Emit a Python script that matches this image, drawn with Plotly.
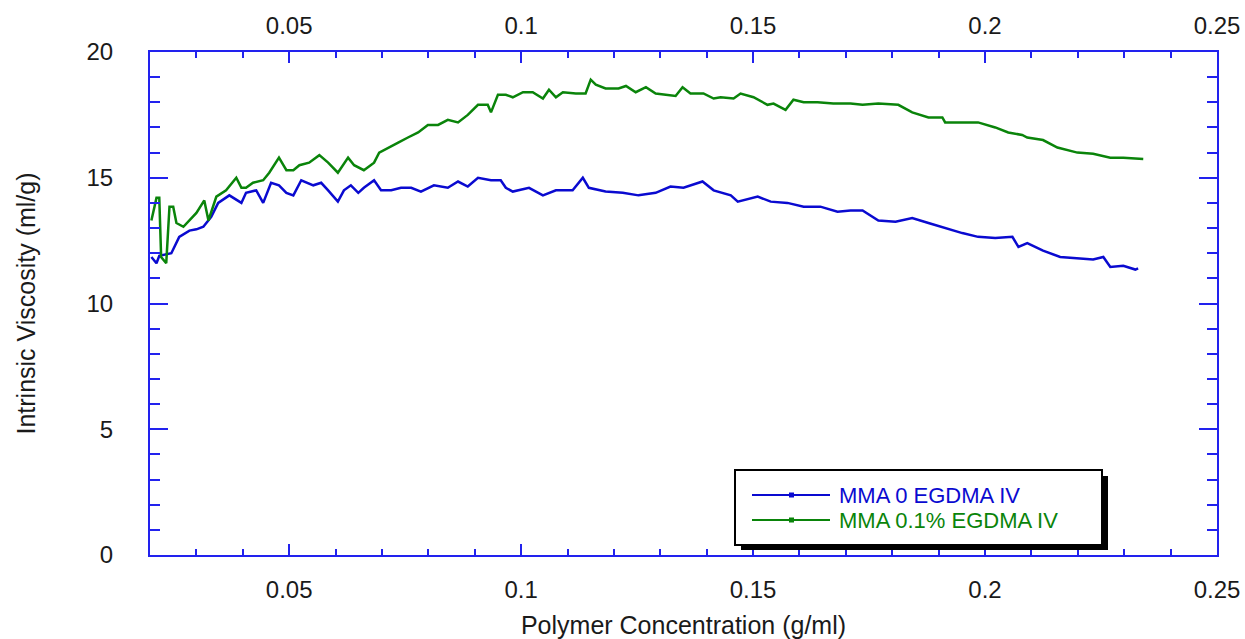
import plotly.graph_objects as go

# ---- data ----
blue_name = "MMA 0 EGDMA IV"
blue_x = [0.0203, 0.0214, 0.0220, 0.0246, 0.0263, 0.0285, 0.0300, 0.0315, 0.0332, 0.0347,
          0.0371, 0.0397, 0.0407, 0.0429, 0.0444, 0.0461, 0.0478, 0.0494, 0.0509, 0.0526,
          0.0552, 0.0569, 0.0584, 0.0605, 0.0618, 0.0633, 0.0649, 0.0661, 0.0683, 0.0698,
          0.0720, 0.0741, 0.0763, 0.0784, 0.0812, 0.0842, 0.0864, 0.0885, 0.0907, 0.0935,
          0.0956, 0.0967, 0.0982, 0.1017, 0.1047, 0.1075, 0.1111, 0.1133, 0.1146, 0.1182,
          0.1219, 0.1253, 0.1290, 0.1322, 0.1350, 0.1391, 0.1415, 0.1452, 0.1467, 0.1510,
          0.1538, 0.1574, 0.1609, 0.1645, 0.1682, 0.1710, 0.1736, 0.1770, 0.1807, 0.1843,
          0.1878, 0.1914, 0.1951, 0.1985, 0.2022, 0.2059, 0.2072, 0.2091, 0.2125, 0.2162,
          0.2199, 0.2233, 0.2255, 0.2270, 0.2298, 0.2324, 0.2330]
blue_y = [11.85, 11.6, 11.9, 12.0, 12.65, 12.9, 12.95, 13.05, 13.45, 14.0,
          14.3, 14.0, 14.4, 14.5, 14.0, 14.8, 14.7, 14.4, 14.3, 14.9,
          14.7, 14.8, 14.5, 14.05, 14.5, 14.7, 14.4, 14.6, 14.9, 14.5,
          14.5, 14.6, 14.6, 14.45, 14.7, 14.6, 14.85, 14.65, 15.0, 14.9,
          14.9, 14.6, 14.45, 14.6, 14.3, 14.5, 14.5, 15.0, 14.6, 14.45,
          14.4, 14.3, 14.4, 14.65, 14.6, 14.85, 14.5, 14.3, 14.05, 14.25,
          14.05, 14.0, 13.85, 13.85, 13.65, 13.7, 13.7, 13.3, 13.25, 13.4,
          13.2, 13.0, 12.8, 12.65, 12.6, 12.65, 12.25, 12.4, 12.1, 11.85,
          11.8, 11.75, 11.85, 11.45, 11.5, 11.35, 11.4]

green_name = "MMA 0.1% EGDMA IV"
green_x = [0.0203, 0.0214, 0.0220, 0.0224, 0.0235, 0.0242, 0.0250, 0.0257, 0.0272, 0.0285,
           0.0300, 0.0317, 0.0326, 0.0343, 0.0364, 0.0386, 0.0397, 0.0407, 0.0422, 0.0444,
           0.0457, 0.0478, 0.0494, 0.0509, 0.0522, 0.0543, 0.0565, 0.0584, 0.0605, 0.0627,
           0.0640, 0.0661, 0.0683, 0.0694, 0.0713, 0.0735, 0.0756, 0.0778, 0.0799, 0.0821,
           0.0842, 0.0864, 0.0885, 0.0907, 0.0928, 0.0935, 0.0950, 0.0967, 0.0982, 0.1004,
           0.1025, 0.1047, 0.1060, 0.1075, 0.1090, 0.1118, 0.1139, 0.1150, 0.1161, 0.1182,
           0.1210, 0.1226, 0.1247, 0.1269, 0.1290, 0.1312, 0.1333, 0.1348, 0.1365, 0.1393,
           0.1415, 0.1430, 0.1458, 0.1473, 0.1501, 0.1531, 0.1544, 0.1570, 0.1587, 0.1609,
           0.1639, 0.1673, 0.1710, 0.1736, 0.1770, 0.1813, 0.1843, 0.1878, 0.1908, 0.1914,
           0.1951, 0.1985, 0.2022, 0.2050, 0.2080, 0.2091, 0.2125, 0.2156, 0.2199, 0.2233,
           0.2270, 0.2298, 0.2341]
green_y = [13.3, 14.2, 14.2, 11.85, 11.6, 13.85, 13.85, 13.2, 13.05, 13.3,
           13.6, 14.1, 13.3, 14.25, 14.5, 15.0, 14.6, 14.6, 14.8, 14.9,
           15.2, 15.8, 15.3, 15.3, 15.5, 15.6, 15.9, 15.6, 15.2, 15.8,
           15.5, 15.3, 15.6, 16.0, 16.2, 16.4, 16.6, 16.8, 17.1, 17.1,
           17.3, 17.2, 17.5, 17.9, 17.9, 17.6, 18.3, 18.3, 18.2, 18.4,
           18.4, 18.15, 18.5, 18.2, 18.4, 18.35, 18.35, 18.9, 18.7, 18.55,
           18.55, 18.65, 18.4, 18.6, 18.35, 18.3, 18.25, 18.6, 18.35, 18.35,
           18.15, 18.2, 18.15, 18.35, 18.2, 17.9, 17.95, 17.7, 18.1, 18.0,
           18.0, 17.95, 17.95, 17.9, 17.95, 17.9, 17.6, 17.4, 17.4, 17.2,
           17.2, 17.2, 17.0, 16.8, 16.7, 16.6, 16.5, 16.2, 16.0, 15.95,
           15.8, 15.8, 15.75]

x_range = [0.02, 0.25]
y_range = [0, 20]
x_title = "Polymer Concentration (g/ml)"
y_title = "Intrinsic Viscosity (ml/g)"

BLUE = "#0a0ad0"
GREEN = "#0a840a"
AXIS = "#2222ee"
FONT = "Liberation Sans, Arial, sans-serif"
TXT = "#1a1a1a"

fig = go.Figure()
fig.add_trace(go.Scatter(x=blue_x, y=blue_y, mode="lines", line=dict(color=BLUE, width=2.5),
                         name=blue_name, showlegend=False))
fig.add_trace(go.Scatter(x=green_x, y=green_y, mode="lines", line=dict(color=GREEN, width=2.5),
                         name=green_name, showlegend=False))
# invisible trace to anchor the top axis
fig.add_trace(go.Scatter(x=[x_range[0]], y=[y_range[0]], xaxis="x2", mode="markers",
                         marker=dict(opacity=0), showlegend=False, hoverinfo="skip"))

axis_common = dict(showgrid=False, zeroline=False, linecolor=AXIS, linewidth=2,
                   tickcolor=AXIS, tickwidth=2, ticks="inside", automargin=False,
                   tickfont=dict(family=FONT, size=24, color=TXT))

fig.update_layout(
    width=1245, height=639, autosize=False,
    margin=dict(l=150, r=28, t=52, b=84),
    paper_bgcolor="white", plot_bgcolor="white",
    showlegend=False,
    xaxis=dict(range=x_range, dtick=0.05, tick0=0, ticklen=11, mirror="ticks",
               tickformat="~g", ticklabelstandoff=12,
               minor=dict(dtick=0.01, tick0=0, ticklen=6, ticks="inside", tickcolor=AXIS, tickwidth=2),
               title=dict(text=x_title, font=dict(family=FONT, size=25, color=TXT), standoff=26),
               **axis_common),
    xaxis2=dict(range=x_range, overlaying="x", side="top", matches="x", dtick=0.05, tick0=0,
                tickformat="~g", showline=False, showgrid=False, zeroline=False, ticks="",
                ticklabelstandoff=12, automargin=False,
                tickfont=dict(family=FONT, size=24, color=TXT)),
    yaxis=dict(range=y_range, dtick=5, tick0=0, ticklen=18, mirror="ticks", ticklabelstandoff=30,
               minor=dict(dtick=1, tick0=0, ticklen=10, ticks="inside", tickcolor=AXIS, tickwidth=2),
               title=dict(text=y_title, font=dict(family=FONT, size=25, color=TXT), standoff=44),
               **axis_common),
)

# ---- legend box (drawn manually to match reference) ----
def px_x(p):
    return (p - 150) / 1067.0

def px_y(p):
    return (555 - p) / 503.0

shapes = []
shapes.append(dict(type="rect", xref="paper", yref="paper", x0=px_x(741), x1=px_x(1108), y0=px_y(550), y1=px_y(476),
                   fillcolor="black", line=dict(color="black", width=0), layer="above"))
shapes.append(dict(type="rect", xref="paper", yref="paper", x0=px_x(735), x1=px_x(1102), y0=px_y(545), y1=px_y(470),
                   fillcolor="white", line=dict(color="black", width=2), layer="above"))
annotations = []
for name, color, py in [(blue_name, BLUE, 495), (green_name, GREEN, 520)]:
    shapes.append(dict(type="line", xref="paper", yref="paper", x0=px_x(752), x1=px_x(830), y0=px_y(py), y1=px_y(py),
                       line=dict(color=color, width=2), layer="above"))
    shapes.append(dict(type="rect", xref="paper", yref="paper", x0=px_x(789), x1=px_x(794), y0=px_y(py + 2.5), y1=px_y(py - 2.5),
                       fillcolor=color, line=dict(color=color, width=0), layer="above"))
    annotations.append(dict(xref="paper", yref="paper", x=px_x(837), y=px_y(py), xanchor="left", yanchor="middle",
                            text=name, showarrow=False, font=dict(family=FONT, size=22, color=color)))

fig.update_layout(shapes=shapes, annotations=annotations)

fig.write_html("out.html")
